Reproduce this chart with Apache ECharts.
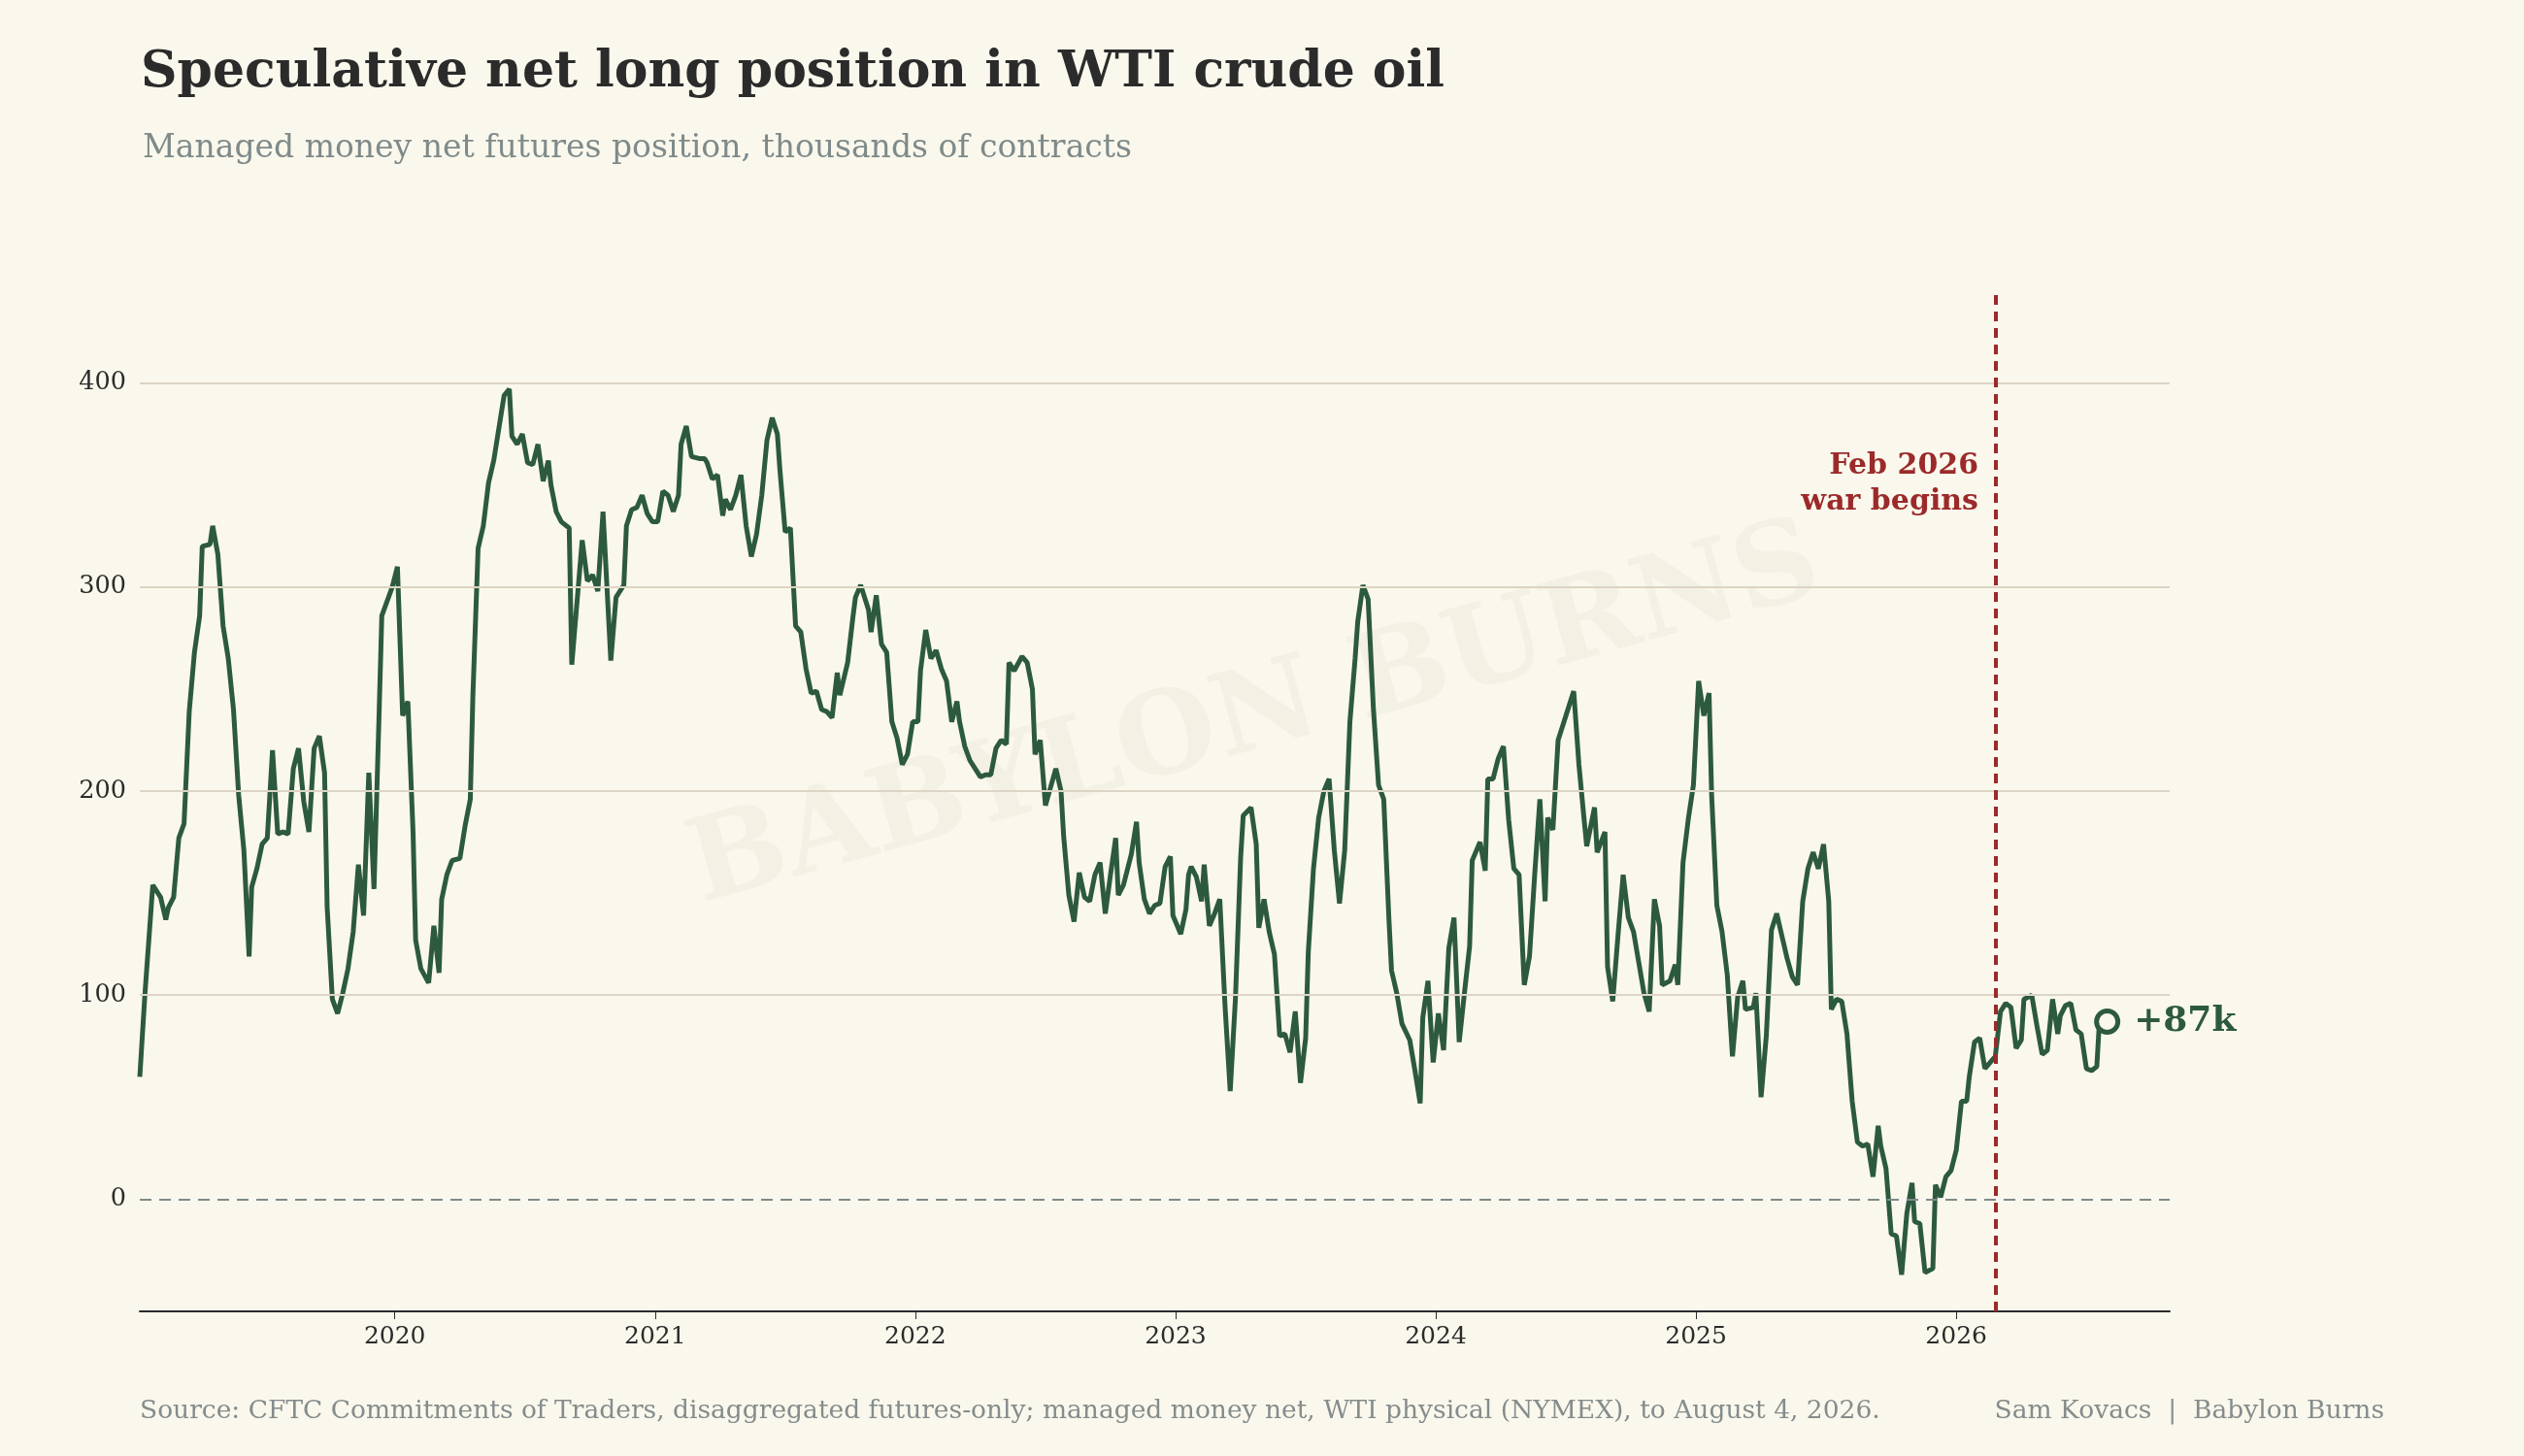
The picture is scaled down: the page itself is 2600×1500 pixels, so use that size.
<!DOCTYPE html>
<html><head><meta charset="utf-8">
<script src="https://cdn.jsdelivr.net/npm/echarts@6/dist/echarts.min.js"></script>
<style>html,body{margin:0;padding:0;background:#faf8ec}#c{width:2600px;height:1500px}</style>
</head><body><div id="c"></div>
<script>
const years = [2020,2021,2022,2023,2024,2025,2026];
const yTicks = [0,100,200,300,400];
const warDate = 2026.146;
const lastLabel = '+87k';
const positions = [
[2019.02,60],[2019.04,101],[2019.07,154],[2019.10,148],[2019.12,137],[2019.13,143],[2019.15,148],[2019.17,177],[2019.19,184],[2019.21,239],[2019.23,268],[2019.25,286],[2019.26,320],[2019.29,321],[2019.30,330],[2019.32,316],[2019.34,281],[2019.36,265],[2019.38,240],[2019.40,198],[2019.42,171],[2019.44,119],[2019.45,153],[2019.47,162],[2019.49,174],[2019.51,177],[2019.53,220],[2019.55,179],[2019.57,180],[2019.59,179],[2019.61,211],[2019.63,221],[2019.65,195],[2019.67,180],[2019.69,221],[2019.71,227],[2019.73,209],[2019.74,143],[2019.76,98],[2019.78,91],[2019.80,101],[2019.82,113],[2019.84,131],[2019.86,164],[2019.88,139],[2019.90,209],[2019.92,152],[2019.94,240],[2019.95,286],[2019.99,300],[2020.01,310],[2020.03,237],[2020.05,244],[2020.07,180],[2020.08,127],[2020.10,113],[2020.13,106],[2020.15,134],[2020.17,111],[2020.18,147],[2020.20,159],[2020.22,166],[2020.25,167],[2020.27,183],[2020.29,196],[2020.30,247],[2020.32,319],[2020.34,330],[2020.36,351],[2020.38,362],[2020.40,378],[2020.42,394],[2020.44,397],[2020.45,374],[2020.47,370],[2020.49,375],[2020.51,361],[2020.53,360],[2020.55,370],[2020.57,352],[2020.59,362],[2020.60,350],[2020.62,337],[2020.64,332],[2020.67,329],[2020.68,262],[2020.72,323],[2020.74,303],[2020.76,306],[2020.78,298],[2020.80,337],[2020.83,264],[2020.85,295],[2020.88,301],[2020.89,330],[2020.91,338],[2020.93,339],[2020.95,345],[2020.97,336],[2020.99,332],[2021.01,332],[2021.03,347],[2021.05,345],[2021.07,337],[2021.09,345],
[2021.10,370],[2021.12,379],[2021.14,364],[2021.17,363],[2021.19,363],[2021.20,361],[2021.22,353],[2021.24,355],[2021.26,335],[2021.27,343],[2021.29,338],[2021.31,345],[2021.33,355],[2021.35,330],[2021.37,315],[2021.39,326],[2021.41,345],[2021.43,372],[2021.45,383],[2021.47,375],[2021.48,357],[2021.50,327],[2021.52,329],[2021.54,281],[2021.56,278],[2021.58,260],[2021.60,248],[2021.62,249],[2021.64,240],[2021.66,239],[2021.68,236],[2021.70,258],[2021.71,247],[2021.74,263],[2021.76,285],[2021.77,295],[2021.79,301],[2021.82,289],[2021.83,278],[2021.85,296],[2021.87,272],[2021.89,268],[2021.91,234],[2021.93,226],[2021.95,213],[2021.97,218],[2021.99,234],[2022.01,234],[2022.02,259],[2022.04,279],[2022.06,265],[2022.08,269],[2022.10,260],[2022.12,254],[2022.14,234],[2022.16,244],[2022.17,234],[2022.19,222],[2022.21,215],[2022.23,211],[2022.25,207],[2022.27,208],[2022.29,208],[2022.31,221],[2022.33,225],[2022.35,223],[2022.36,263],[2022.38,259],[2022.41,266],[2022.43,263],[2022.45,250],[2022.46,218],[2022.48,225],[2022.50,193],[2022.52,202],[2022.54,211],[2022.56,200],[2022.57,178],[2022.59,149],[2022.61,136],[2022.63,160],[2022.65,148],[2022.67,146],[2022.69,159],[2022.71,165],[2022.73,140],[2022.75,159],[2022.77,177],[2022.78,149],[2022.80,154],[2022.83,169],[2022.85,185],[2022.86,165],[2022.88,147],[2022.90,140],[2022.92,144],[2022.94,145],[2022.96,163],[2022.98,168],[2022.99,139],[2023.02,130],
[2023.04,142],[2023.05,159],[2023.06,163],[2023.08,158],[2023.10,146],[2023.11,164],[2023.13,134],[2023.15,140],[2023.17,147],[2023.19,95],[2023.21,53],[2023.23,98],[2023.25,167],[2023.26,188],[2023.29,192],[2023.31,174],[2023.32,133],[2023.34,147],[2023.36,131],[2023.38,120],[2023.40,80],[2023.42,81],[2023.44,72],[2023.46,92],[2023.48,57],[2023.50,79],[2023.51,121],[2023.53,162],[2023.55,187],[2023.57,200],[2023.59,206],[2023.61,171],[2023.63,145],[2023.65,171],[2023.67,234],[2023.69,265],[2023.70,283],[2023.72,301],[2023.74,294],[2023.76,241],[2023.78,203],[2023.80,196],[2023.82,137],[2023.83,112],[2023.85,101],[2023.87,86],[2023.90,78],[2023.92,63],[2023.94,47],[2023.95,89],[2023.97,107],[2023.99,67],[2024.01,91],[2024.03,73],[2024.05,123],[2024.07,138],[2024.09,77],[2024.11,101],[2024.13,124],[2024.14,166],[2024.17,175],[2024.19,161],[2024.20,206],[2024.22,206],[2024.24,216],[2024.26,222],[2024.28,186],[2024.30,162],[2024.32,159],[2024.34,105],[2024.36,119],[2024.38,159],[2024.40,196],[2024.42,146],[2024.43,187],[2024.45,181],[2024.47,225],[2024.49,233],[2024.51,241],[2024.53,249],[2024.55,213],[2024.57,186],[2024.58,173],[2024.61,192],[2024.62,170],[2024.65,180],[2024.66,114],[2024.68,97],[2024.70,129],[2024.72,159],[2024.74,138],[2024.76,131],[2024.78,116],[2024.80,101],[2024.82,92],[2024.84,147],[2024.86,134],[2024.87,105],[2024.90,107],[2024.92,115],[2024.93,105],[2024.95,165],[2024.97,186],[2024.99,203],[2025.01,254],[2025.03,237],
[2025.05,248],[2025.06,198],[2025.08,144],[2025.10,131],[2025.12,110],[2025.14,70],[2025.16,99],[2025.18,107],[2025.19,93],[2025.22,94],[2025.23,101],[2025.25,50],[2025.27,80],[2025.29,132],[2025.31,140],[2025.33,129],[2025.35,118],[2025.37,109],[2025.39,105],[2025.41,146],[2025.43,162],[2025.45,170],[2025.47,162],[2025.49,174],[2025.51,146],[2025.52,93],[2025.54,98],[2025.56,97],[2025.58,81],[2025.60,48],[2025.62,28],[2025.64,26],[2025.66,27],[2025.68,11],[2025.70,36],[2025.71,26],[2025.73,15],[2025.75,-17],[2025.77,-18],[2025.79,-37],[2025.81,-7],[2025.83,8],[2025.84,-11],[2025.86,-12],[2025.88,-36],[2025.91,-34],[2025.92,7],[2025.94,1],[2025.96,11],[2025.98,14],[2026.00,24],[2026.02,48],[2026.04,48],[2026.05,60],[2026.07,77],[2026.09,79],[2026.11,64],[2026.13,67],[2026.15,70],[2026.17,92],[2026.19,96],[2026.21,94],[2026.23,74],[2026.25,78],[2026.26,98],[2026.29,100],[2026.31,85],[2026.33,71],[2026.35,73],[2026.37,98],[2026.39,81],[2026.40,90],[2026.42,95],[2026.44,96],[2026.46,83],[2026.48,81],[2026.50,64],[2026.52,63],[2026.54,65],[2026.55,87],[2026.58,87]
];
const serif = '"DejaVu Serif", serif';
const chart = echarts.init(document.getElementById('c'));
const last = positions[positions.length-1];
chart.setOption({
  backgroundColor:'#faf8ec',
  animation:false,
  title:[
    {text:'Speculative net long position in WTI crude oil', left:140, top:44,
     textStyle:{fontFamily:serif,fontSize:52,fontWeight:'bold',color:'#2b2b2b'}},
    {text:'Managed money net futures position, thousands of contracts', left:142, top:132,
     textStyle:{fontFamily:serif,fontSize:33,fontWeight:'normal',color:'#7f8a8a'}}
  ],
  graphic:[
    {type:'text', left:144, top:1441, style:{text:'Source: CFTC Commitments of Traders, disaggregated futures-only; managed money net, WTI physical (NYMEX), to August 4, 2026.', font:'26.5px "DejaVu Serif"', fill:'#858c8c'}},
    {type:'text', right:144, top:1441, style:{text:'Sam Kovacs  |  Babylon Burns', font:'26.5px "DejaVu Serif"', fill:'#858c8c'}},
    {type:'text', x:1293, y:740, rotation:0.27, z:-1, style:{text:'BABYLON BURNS', font:'bold 118px "DejaVu Serif"', fill:'rgba(200,195,170,0.13)', align:'center', verticalAlign:'middle'}},
    {type:'text', x:2038, y:462, style:{text:'Feb 2026\nwar begins', font:'bold 30px "DejaVu Serif"', fill:'#9b2a2a', align:'right', lineHeight:37}}
  ],
  grid:{left:144, right:365, top:298, bottom:149},
  xAxis:{type:'value', min:2019.02, max:2026.82,
    axisLine:{onZero:false, lineStyle:{color:'#2b2b2b',width:2}},
    axisTick:{show:true, customValues:years, length:8, lineStyle:{color:'#2b2b2b'}},
    axisLabel:{customValues:years, formatter:v=>String(v), fontFamily:serif, fontSize:25, color:'#2b2b2b', margin:14},
    splitLine:{show:false}},
  yAxis:{type:'value', min:-55, max:446,
    axisLine:{show:false}, axisTick:{show:false}, splitLine:{show:false},
    axisLabel:{customValues:yTicks, fontFamily:serif, fontSize:25.5, color:'#2b2b2b', margin:14}},
  series:[
    {type:'line', data:positions, symbol:'none', lineStyle:{color:'#2d5a3f',width:5}, z:3,
     markLine:{silent:true, symbol:'none', label:{show:false},
       data:[
        ...yTicks.filter(v=>v>0).map(v=>({yAxis:v, lineStyle:{color:'#dcd4c4',width:2,type:'solid'}})),
        {yAxis:0, lineStyle:{color:'#7f8a8a',width:2,type:[12,8]}},
        {xAxis:warDate, lineStyle:{color:'#9b2a2a',width:4,type:[10,7]}}
       ]}},
    {type:'scatter', data:[last], symbol:'circle', symbolSize:22, z:4,
     itemStyle:{color:'#faf8ec', borderColor:'#2d5a3f', borderWidth:5, opacity:1},
     label:{show:true, position:'right', distance:14, formatter:lastLabel, fontFamily:serif, fontSize:36, fontWeight:'bold', color:'#2d5a3f'}}
  ]
});
</script></body></html>
